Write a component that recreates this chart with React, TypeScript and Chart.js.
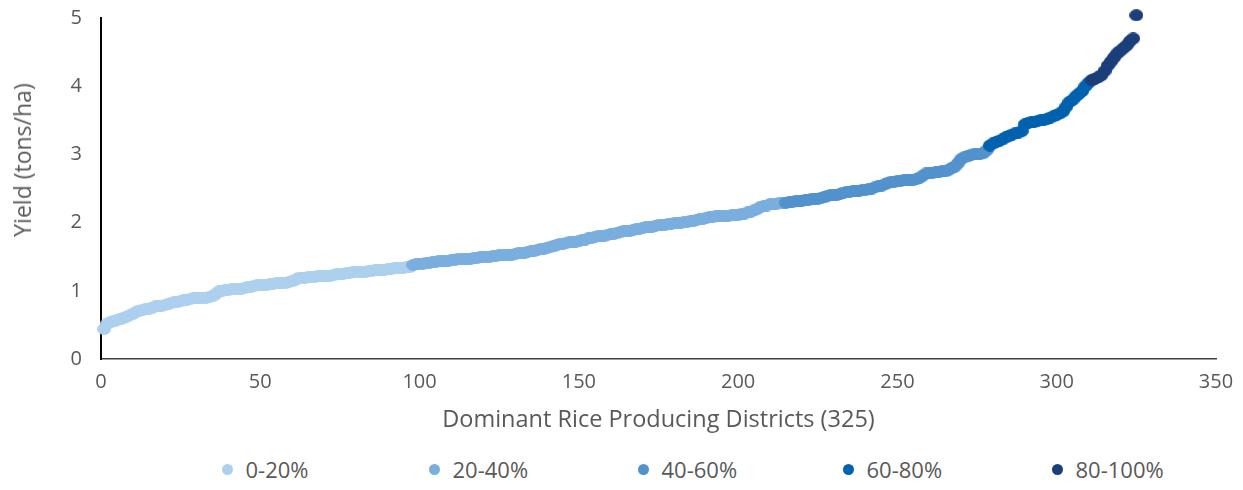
import { useEffect, useRef } from "react";
import { Chart, registerables } from "chart.js";

Chart.register(...registerables);

const seriesLabels = ["0-20%", "20-40%", "40-60%", "60-80%", "80-100%"];
const seriesColors = ["#ACD0EE", "#7AAEDE", "#5292CD", "#0062AF", "#1B3F7A"];

// Yields (tons/ha), districts sorted ascending; x = rank of district (1..325)
const yield0to20 = [
  0.44, 0.52, 0.54, 0.55, 0.57, 0.58, 0.6, 0.62, 0.64, 0.66,
  0.69, 0.71, 0.72, 0.73, 0.74, 0.75, 0.77, 0.77, 0.78, 0.79,
  0.8, 0.82, 0.83, 0.84, 0.85, 0.86, 0.87, 0.88, 0.89, 0.89,
  0.9, 0.9, 0.9, 0.91, 0.92, 0.95, 0.99, 1.0, 1.01, 1.01,
  1.02, 1.02, 1.03, 1.03, 1.04, 1.05, 1.06, 1.07, 1.08, 1.08,
  1.09, 1.09, 1.1, 1.1, 1.11, 1.11, 1.12, 1.12, 1.13, 1.14,
  1.16, 1.19, 1.19, 1.19, 1.2, 1.2, 1.2, 1.21, 1.21, 1.21,
  1.22, 1.22, 1.23, 1.24, 1.25, 1.25, 1.26, 1.26, 1.27, 1.27,
  1.28, 1.28, 1.28, 1.29, 1.29, 1.3, 1.3, 1.31, 1.31, 1.32,
  1.32, 1.33, 1.33, 1.34, 1.34, 1.35, 1.35,
];
const yield20to40 = [
  1.38, 1.39, 1.4, 1.4, 1.41, 1.41, 1.42, 1.42, 1.43, 1.43,
  1.44, 1.44, 1.45, 1.45, 1.46, 1.46, 1.46, 1.47, 1.47, 1.48,
  1.48, 1.49, 1.5, 1.5, 1.5, 1.51, 1.51, 1.52, 1.52, 1.52,
  1.53, 1.53, 1.54, 1.55, 1.55, 1.56, 1.57, 1.58, 1.59, 1.6,
  1.61, 1.62, 1.63, 1.64, 1.65, 1.67, 1.68, 1.69, 1.7, 1.71,
  1.71, 1.72, 1.73, 1.74, 1.75, 1.77, 1.78, 1.79, 1.8, 1.8,
  1.81, 1.82, 1.83, 1.84, 1.85, 1.86, 1.87, 1.88, 1.88, 1.89,
  1.9, 1.91, 1.92, 1.93, 1.93, 1.94, 1.95, 1.96, 1.96, 1.97,
  1.98, 1.98, 1.99, 2.0, 2.0, 2.01, 2.01, 2.02, 2.03, 2.04,
  2.05, 2.06, 2.07, 2.08, 2.08, 2.09, 2.09, 2.1, 2.1, 2.1,
  2.11, 2.11, 2.11, 2.12, 2.13, 2.15, 2.16, 2.18, 2.2, 2.23,
  2.24, 2.25, 2.27, 2.27, 2.28, 2.29, 2.29,
];
const yield40to60 = [
  2.29, 2.3, 2.3, 2.31, 2.31, 2.32, 2.33, 2.33, 2.34, 2.35,
  2.35, 2.36, 2.37, 2.39, 2.4, 2.41, 2.41, 2.42, 2.44, 2.45,
  2.45, 2.46, 2.46, 2.47, 2.48, 2.48, 2.49, 2.5, 2.52, 2.53,
  2.54, 2.56, 2.58, 2.6, 2.6, 2.61, 2.61, 2.62, 2.62, 2.63,
  2.63, 2.64, 2.66, 2.69, 2.72, 2.73, 2.73, 2.74, 2.74, 2.75,
  2.75, 2.77, 2.8, 2.82, 2.87, 2.93, 2.96, 2.97, 2.99, 3.0,
  3.0, 3.01, 3.02, 3.06,
];
const yield60to80 = [
  3.13, 3.16, 3.18, 3.2, 3.22, 3.25, 3.27, 3.29, 3.31, 3.32,
  3.34, 3.44, 3.46, 3.47, 3.48, 3.49, 3.5, 3.51, 3.52, 3.54,
  3.56, 3.58, 3.6, 3.63, 3.7, 3.77, 3.8, 3.85, 3.89, 3.93,
  4.0, 4.05,
];
const yield80to100 = [
  4.09, 4.11, 4.13, 4.16, 4.22, 4.3, 4.36, 4.42, 4.48, 4.52,
  4.56, 4.6, 4.66, 4.7, 5.04,
];

const seriesValues = [yield0to20, yield20to40, yield40to60, yield60to80, yield80to100];

const xTickStep = 50;
const xMax = 350;
const yTickStep = 1;
const yMax = 5;

const xTitle = "Dominant Rice Producing Districts (325)";
const yTitle = "Yield (tons/ha)";

const FONT = "'Open Sans', 'Noto Sans', sans-serif";
const TEXT = "#595959";

const legendCenters = [219, 426, 635, 840, 1049];

function makeMarker(color: string) {
  const c = document.createElement("canvas");
  c.width = 14;
  c.height = 12;
  const ctx = c.getContext("2d")!;
  ctx.fillStyle = color;
  ctx.beginPath();
  ctx.ellipse(7, 6, 7, 6, 0, 0, Math.PI * 2);
  ctx.fill();
  return c;
}

export default function App() {
  const ref = useRef<HTMLCanvasElement | null>(null);

  useEffect(() => {
    document.documentElement.style.overflow = "hidden";
    if (!ref.current) return;
    let rank = 0;
    const datasets = seriesValues.map((vals, i) => {
      const pts = vals.map((v) => {
        rank += 1;
        return { x: rank, y: v };
      });
      return {
        label: seriesLabels[i],
        data: pts,
        backgroundColor: seriesColors[i],
        borderColor: seriesColors[i],
        pointStyle: makeMarker(seriesColors[i]),
        pointRadius: 6,
        pointHoverRadius: 6,
        order: seriesValues.length - i,
        clip: false as const,
      };
    });

    const chart = new Chart(ref.current, {
      type: "scatter",
      data: { datasets: datasets as any },
      options: {
        animation: false,
        responsive: false,
        devicePixelRatio: 1,
        layout: { padding: { left: 0, right: 19, top: 10, bottom: 14 } },
        plugins: {
          legend: { display: false },
          tooltip: { enabled: false },
        },
        scales: {
          x: {
            type: "linear",
            min: 0,
            max: xMax,
            afterFit: (s: any) => {
              s.height = 75;
              s.paddingLeft = 0;
              s.paddingRight = 0;
            },
            ticks: {
              stepSize: xTickStep,
              color: TEXT,
              padding: 13,
              font: { family: FONT, size: 20, lineHeight: 1 },
            },
            grid: { display: false, drawTicks: false },
            border: { display: true, color: "#404040", width: 1.5 },
            title: {
              display: true,
              text: xTitle,
              color: TEXT,
              padding: { top: 0, bottom: 0 },
              font: { family: FONT, size: 23.5, lineHeight: 1.2 },
            },
          },
          y: {
            type: "linear",
            min: 0,
            max: yMax,
            afterFit: (s: any) => {
              s.width = 93;
              s.paddingTop = 0;
              s.paddingBottom = 0;
            },
            ticks: {
              stepSize: yTickStep,
              color: TEXT,
              padding: 19,
              font: { family: FONT, size: 20, lineHeight: 1 },
            },
            grid: { display: false, drawTicks: false },
            border: { display: true, color: "#000000", width: 2 },
            title: { display: false },
          },
        },
      },
    });
    return () => chart.destroy();
  }, []);

  return (
    <div style={{ position: "relative", width: 1227, height: 474 }}>
      <canvas ref={ref} width={1227} height={440} style={{ display: "block" }} />
      <div
        style={{
          position: "absolute",
          left: 14,
          top: 152,
          transform: "translate(-50%, -50%) rotate(-90deg)",
          fontFamily: FONT,
          fontSize: 23,
          lineHeight: "28px",
          color: TEXT,
          whiteSpace: "nowrap",
        }}
      >
        {yTitle}
      </div>
      {seriesLabels.map((lab, i) => (
        <div
          key={lab}
          style={{
            position: "absolute",
            left: legendCenters[i] - 5.5,
            top: 448,
            height: 26,
            display: "flex",
            alignItems: "center",
            gap: 13,
            fontFamily: FONT,
            fontSize: 22,
            lineHeight: "26px",
            color: TEXT,
            whiteSpace: "nowrap",
          }}
        >
          <span
            style={{
              display: "inline-block",
              width: 11,
              height: 11,
              borderRadius: "50%",
              background: seriesColors[i],
            }}
          />
          <span>{lab}</span>
        </div>
      ))}
    </div>
  );
}
